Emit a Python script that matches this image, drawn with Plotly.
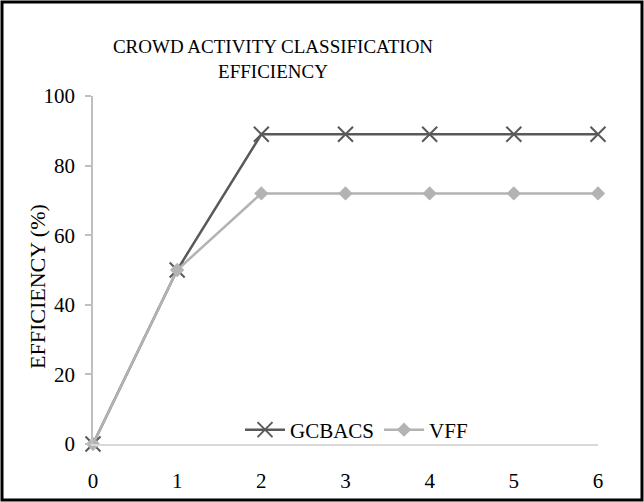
import plotly.graph_objects as go

# Efficiency (%) of each method against the x-axis step
steps = [0, 1, 2, 3, 4, 5, 6]
gcbacs = [0, 50, 89, 89, 89, 89, 89]
vff = [0, 50, 72, 72, 72, 72, 72]

W, H = 644, 502
ML, MR, MT, MB = 93, 46, 96, 58
PW, PH = W - ML - MR, H - MT - MB

FONT = "Times New Roman, Liberation Serif, serif"

fig = go.Figure()
fig.add_trace(go.Scatter(
    x=steps, y=gcbacs, name="GCBACS", mode="lines+markers",
    line=dict(color="#595959", width=2.5),
    marker=dict(symbol="x-thin", size=15, line=dict(color="#595959", width=2)),
    cliponaxis=False,
))
fig.add_trace(go.Scatter(
    x=steps, y=vff, name="VFF", mode="lines+markers",
    line=dict(color="#b3b3b3", width=2.5),
    marker=dict(symbol="diamond", size=11, color="#b3b3b3"),
    cliponaxis=False,
))

# outer chart border
fig.add_shape(
    type="rect", xref="paper", yref="paper",
    x0=(2 - ML) / PW, x1=(W - 2 - ML) / PW,
    y0=-(MB - 2) / PH, y1=(MT + PH - 2) / PH,
    line=dict(color="black", width=3), fillcolor="rgba(0,0,0,0)",
)

# vertical axis title
fig.add_annotation(
    text="EFFICIENCY (%)", textangle=-90, showarrow=False,
    xref="paper", yref="paper", x=(37 - ML) / PW, y=(MT + PH - 287) / PH,
    xanchor="center", yanchor="middle",
    font=dict(family=FONT, size=22, color="black"),
)

fig.update_layout(
    width=W, height=H,
    margin=dict(l=ML, r=MR, t=MT, b=MB, autoexpand=False),
    paper_bgcolor="white", plot_bgcolor="white",
    font=dict(family=FONT, size=21, color="black"),
    title=dict(
        text="CROWD ACTIVITY CLASSIFICATION<br>EFFICIENCY",
        x=273 / W, xanchor="center", y=1 - 53 / H, yanchor="middle",
        font=dict(family=FONT, size=19, color="black"),
    ),
    showlegend=True,
    legend=dict(
        orientation="h", x=(240 - ML) / PW, xanchor="left",
        y=14 / PH, yanchor="middle",
        bgcolor="rgba(0,0,0,0)", font=dict(family=FONT, size=21),
        itemwidth=40,
    ),
    xaxis=dict(
        range=[0, 6], tickmode="array", tickvals=steps,
        showgrid=False, zeroline=False, automargin=False,
        showline=True, linecolor="#d9d9d9", linewidth=1.5,
        ticks="outside", ticklen=17, tickcolor="rgba(0,0,0,0)",
        tickfont=dict(family=FONT, size=21),
    ),
    yaxis=dict(
        range=[0, 100], tickmode="array", tickvals=[0, 20, 40, 60, 80, 100],
        showgrid=False, zeroline=False, automargin=False,
        showline=True, linecolor="#bfbfbf", linewidth=1.5,
        ticks="outside", ticklen=6, tickcolor="#bfbfbf", tickwidth=1.5,
        ticklabelstandoff=6,
        tickfont=dict(family=FONT, size=21),
    ),
)

fig.write_html("out.html")
